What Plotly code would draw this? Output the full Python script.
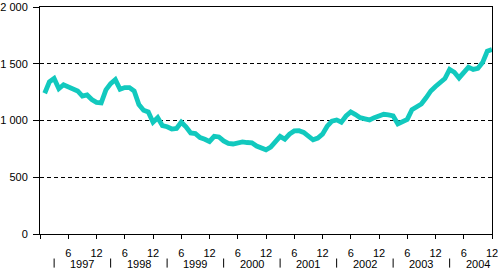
import plotly.graph_objects as go

months = list(range(1, 97))  # 1 = Jan 1997 ... 96 = Dec 2004
values = [
    1240, 1340, 1370, 1280, 1315, 1300, 1285, 1260, 1215, 1225, 1185, 1160,
    1155, 1270, 1325, 1360, 1275, 1290, 1290, 1260, 1140, 1090, 1075, 985,
    1025, 955, 945, 925, 930, 985, 945, 890, 885, 850, 835, 815,
    860, 855, 820, 798, 793, 800, 812, 806, 804, 775, 755, 742,
    765, 810, 860, 835, 880, 908, 910, 895, 860, 830, 845, 880,
    950, 995, 1005, 985, 1040, 1075, 1052, 1025, 1015, 1005, 1025, 1045,
    1055, 1050, 1040, 970, 985, 1010, 1095, 1120, 1145, 1200, 1260, 1300,
    1335, 1370, 1450, 1425, 1375, 1420, 1470, 1450, 1460, 1510, 1610, 1625,
]
years = ["1997", "1998", "1999", "2000", "2001", "2002", "2003", "2004"]
x_tickvals = [0] + list(range(6, 97, 6))
x_ticktext = [""] + ["6" if i % 2 == 0 else "12" for i in range(16)]
y_tickvals = [0, 500, 1000, 1500, 2000]
y_ticktext = ["0", "500", "1 000", "1 500", "2 000"]

FONT = dict(family="Liberation Sans, Arial, sans-serif", size=11, color="black")

fig = go.Figure()
fig.add_trace(go.Scatter(x=months, y=values, mode="lines",
                         line=dict(color="#12C9BE", width=4.8), hoverinfo="skip"))

shapes = []
annotations = []
for k, yr in enumerate(years):
    left = 3 + 12 * k
    shapes.append(dict(type="line", xref="x", yref="paper", x0=left, x1=left,
                       y0=-0.108, y1=-0.148, line=dict(color="black", width=1)))
    annotations.append(dict(x=left + 6, y=-0.13, xref="x", yref="paper",
                            text=yr, showarrow=False, font=FONT,
                            xanchor="center", yanchor="middle"))

fig.update_layout(
    width=498, height=269,
    margin=dict(l=40, r=6, t=7, b=35, autoexpand=False),
    paper_bgcolor="white", plot_bgcolor="white",
    showlegend=False,
    font=FONT,
    shapes=shapes,
    annotations=annotations,
    xaxis=dict(range=[0, 96], tickvals=x_tickvals, ticktext=x_ticktext,
               showgrid=False, zeroline=False, showline=True, linecolor="black",
               linewidth=1, mirror=True, ticks="outside", ticklen=4,
               tickcolor="black", tickfont=FONT, ticklabelstandoff=5,
               automargin=False, ticklabeloverflow="allow"),
    yaxis=dict(range=[0, 2000], tickvals=y_tickvals, ticktext=y_ticktext,
               showgrid=True, gridcolor="black", griddash="4px,3px", gridwidth=1,
               zeroline=False, showline=True, linecolor="black", linewidth=1,
               mirror=True, ticks="outside", ticklen=6, tickcolor="black",
               tickfont=FONT, ticklabelstandoff=3, automargin=False,
               ticklabeloverflow="allow"),
)

fig.write_html("out.html")
